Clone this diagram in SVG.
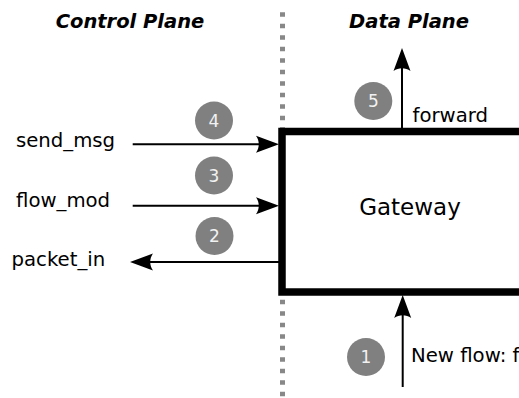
<svg xmlns="http://www.w3.org/2000/svg" width="519" height="398" viewBox="0 0 519 398">
<style>
text{font-family:"DejaVu Sans","Liberation Sans",sans-serif;fill:#000}
.title{font-size:19.5px;font-weight:bold;font-style:italic;text-anchor:middle}
.lbl{font-size:19.7px}
.num circle{fill:#808080}
.num text{fill:#f2f2f2;font-size:17px;text-anchor:middle}
.conn{stroke:#000;stroke-width:2;fill:none;marker-end:url(#arr)}
</style>
<defs>
<marker id="arr" viewBox="-24 -9 25 18" refX="-8" refY="0" markerWidth="25" markerHeight="18" markerUnits="userSpaceOnUse" orient="auto">
<path d="M0,0 L-23,-8.5 C-19.3,-3.45 -19.3,3.45 -23,8.5 Z" fill="#000"/>
</marker>
</defs>
<rect width="519" height="398" fill="#fff"/>
<g id="divider">
<line x1="282.5" y1="12.3" x2="282.5" y2="398" stroke="#888" stroke-width="5" stroke-dasharray="4.5 7"/>
</g>
<g id="titles">
<text class="title" x="130" y="27.7">Control Plane</text>
<text class="title" x="409" y="27.7">Data Plane</text>
</g>
<g id="gateway">
<rect x="282" y="131.5" width="320" height="160.5" fill="#fff" stroke="#000" stroke-width="7.5"/>
<text x="410" y="215" font-size="23" text-anchor="middle">Gateway</text>
</g>
<g id="connectors">
<line class="conn" x1="132.7" y1="144.3" x2="271" y2="144.3"/>
<line class="conn" x1="132.7" y1="205.7" x2="271" y2="205.7"/>
<line class="conn" x1="279" y1="262" x2="138" y2="262"/>
<line class="conn" x1="402" y1="128" x2="402" y2="56"/>
<line class="conn" x1="402.7" y1="387" x2="402.7" y2="303"/>
</g>
<g id="label-send_msg"><text class="lbl" x="16" y="147.3">send_msg</text></g>
<g id="label-flow_mod"><text class="lbl" x="16" y="207.3">flow_mod</text></g>
<g id="label-packet_in"><text class="lbl" x="11.5" y="265.7">packet_in</text></g>
<g id="label-forward"><text class="lbl" x="412.5" y="121.5">forward</text></g>
<g id="label-newflow"><text class="lbl" x="411" y="361.7">New flow: f</text></g>
<g id="step1" class="num"><circle cx="366" cy="357" r="19"/><text x="366" y="363">1</text></g>
<g id="step2" class="num"><circle cx="214.5" cy="236" r="19"/><text x="214.5" y="242">2</text></g>
<g id="step3" class="num"><circle cx="214" cy="175.5" r="19"/><text x="214" y="181.5">3</text></g>
<g id="step4" class="num"><circle cx="214" cy="120.5" r="19"/><text x="214" y="126.5">4</text></g>
<g id="step5" class="num"><circle cx="373.3" cy="101" r="19"/><text x="373.3" y="107">5</text></g>
</svg>
